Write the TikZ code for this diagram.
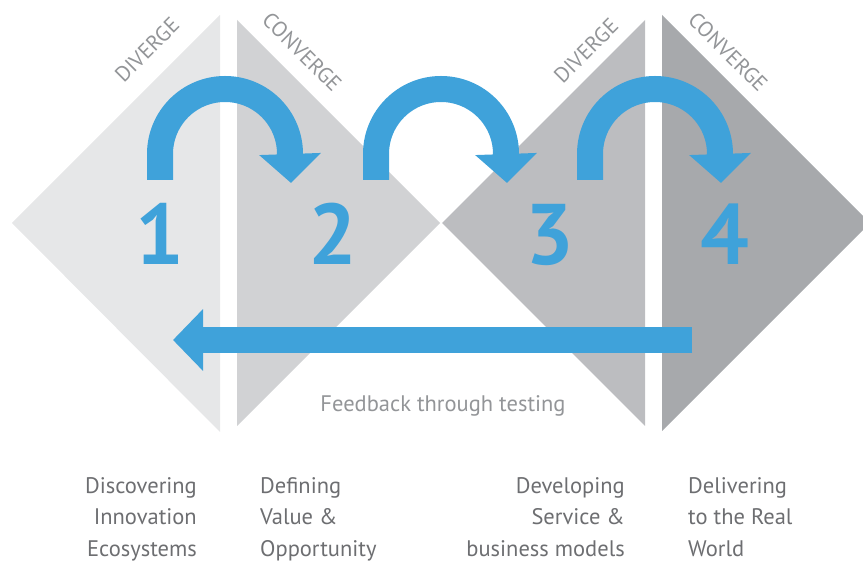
\documentclass[tikz,border=0pt]{standalone}
\usepackage{fontspec}
\setmainfont{PT Sans}
\usetikzlibrary{arrows.meta}
\definecolor{tA}{HTML}{E6E7E8}
\definecolor{tB}{HTML}{D1D2D4}
\definecolor{tC}{HTML}{BCBDC0}
\definecolor{tD}{HTML}{A7A9AC}
\definecolor{flow}{HTML}{3FA2DA}
\definecolor{labelgray}{HTML}{6D6E71}
\definecolor{softgray}{HTML}{939598}
\begin{document}
\begin{tikzpicture}[x=1pt,y=-1pt,
  flowarrow/.style={draw=flow, line width=26pt, -{Triangle[length=29pt,width=60pt]}},
  digit/.style={text=flow, font=\fontsize{86}{86}\selectfont\bfseries, inner sep=0pt, anchor=base},
  phase/.style={text=softgray, font=\fontsize{21.5}{21.5}\selectfont, inner sep=0pt},
  stagetext/.style={text=labelgray, font=\fontsize{22.5}{31.5}\selectfont, inner sep=0pt},
  note/.style={text=softgray, font=\fontsize{22.5}{22.5}\selectfont, inner sep=0pt, anchor=base}]
\useasboundingbox (0,0) rectangle (863,561);
% four half-diamonds
\fill[tA] (220,15) -- (12,223) -- (220,432) -- cycle;
\fill[tB] (237,20) -- (440,223) -- (237,426) -- cycle;
\fill[tC] (645,20) -- (442,223) -- (645,426) -- cycle;
\fill[tD] (662,15) -- (870,223) -- (662,431) -- cycle;
% phase labels
\node[phase, rotate=45] (div1) at (147,50) {DIVERGE};
\node[phase, rotate=-45] (con1) at (302,52) {CONVERGE};
\node[phase, rotate=45] (div2) at (586,51) {DIVERGE};
\node[phase, rotate=-45] (con2) at (728,52) {CONVERGE};
% curved arrows
\coordinate (s1) at (160,180); \coordinate (e1) at (291,183);
\coordinate (s2) at (376,180); \coordinate (e2) at (507,183);
\coordinate (s3) at (590,180); \coordinate (e3) at (721,183);
\draw[flowarrow] (s1) -- ++(0,-26) arc[start angle=180,end angle=360,radius=65] -- (e1);
\draw[flowarrow] (s2) -- ++(0,-26) arc[start angle=180,end angle=360,radius=65] -- (e2);
\draw[flowarrow] (s3) -- ++(0,-26) arc[start angle=180,end angle=360,radius=65] -- (e3);
% numbers
\node[digit] (n1) at (160,265) {1};
\node[digit] (n2) at (333,265) {2};
\node[digit] (n3) at (550,265) {3};
\node[digit] (n4) at (725,265) {4};
% feedback arrow
\coordinate (fbS) at (692,340);
\coordinate (fbE) at (173,340);
\draw[flowarrow, -{Triangle[length=30pt,width=60pt]}] (fbS) -- (fbE);
\node[note] (fb) at (443,412) {Feedback through testing};
% stage descriptions (base anchor = last line)
\node[stagetext, anchor=base east, align=right] (l1) at (197,556) {Discovering\\Innovation\\Ecosystems};
\node[stagetext, anchor=base west, align=left] (l2) at (260,556) {Defining\\Value \&\\Opportunity};
\node[stagetext, anchor=base east, align=right] (l3) at (625,556) {Developing\\Service \&\\business models};
\node[stagetext, anchor=base west, align=left] (l4) at (688,556) {Delivering\\to the Real\\World};
\end{tikzpicture}
\end{document}
